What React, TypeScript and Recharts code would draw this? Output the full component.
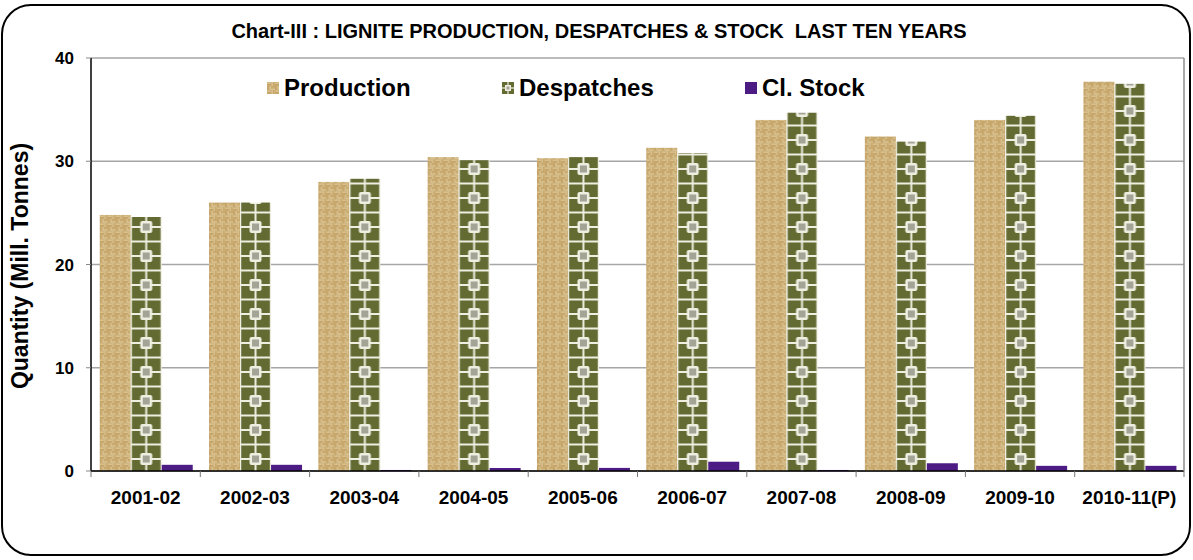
import { BarChart, Bar, XAxis, YAxis, CartesianGrid } from 'recharts';

const years = ['2001-02', '2002-03', '2003-04', '2004-05', '2005-06', '2006-07', '2007-08', '2008-09', '2009-10', '2010-11(P)'];
const production = [24.8, 26.0, 28.0, 30.4, 30.3, 31.3, 34.0, 32.4, 34.0, 37.7];
const despatches = [24.6, 26.0, 28.3, 30.1, 30.4, 30.8, 34.7, 31.9, 34.4, 37.5];
const closingStock = [0.6, 0.6, 0.1, 0.3, 0.3, 0.9, 0.1, 0.75, 0.5, 0.5];
const yTicks = [0, 10, 20, 30, 40];

const data = years.map((year, i) => ({
  year,
  production: production[i],
  despatches: despatches[i],
  stock: closingStock[i],
}));

const STOCK = '#4c1c84';
const OLIVE = '#636a32';
const LINE = '#efeee0';

// woven "burlap" texture
const WeaveTile = () => (
  <>
    <rect width={8} height={8} fill="#9e7c44" />
    <rect x={0} y={0.4} width={4} height={1.3} fill="#f1dcaa" />
    <rect x={0} y={2.4} width={4} height={1.3} fill="#dcbd7e" />
    <rect x={4.4} y={0} width={1.3} height={4} fill="#f1dcaa" />
    <rect x={6.4} y={0} width={1.3} height={4} fill="#e0c486" />
    <rect x={0.4} y={4} width={1.3} height={4} fill="#dcbd7e" />
    <rect x={2.4} y={4} width={1.3} height={4} fill="#f1dcaa" />
    <rect x={4} y={4.4} width={4} height={1.3} fill="#e0c486" />
    <rect x={4} y={6.4} width={4} height={1.3} fill="#f1dcaa" />
  </>
);

const ProductionShape = (props: any) => {
  const { x, y, width, height, index } = props;
  if (!height) return null;
  const id = `prod-${index}`;
  return (
    <g>
      <defs>
        <pattern id={id} patternUnits="userSpaceOnUse" x={x} y={y + height} width={8} height={8}>
          <WeaveTile />
        </pattern>
      </defs>
      <rect x={x} y={y} width={width} height={height} fill={`url(#${id})`} />
    </g>
  );
};

const DespatchShape = (props: any) => {
  const { x, y, width, height, index } = props;
  if (!height) return null;
  const id = `desp-${index}`;
  const w = width;
  const cx = w / 2;
  return (
    <g>
      <defs>
        <pattern id={id} patternUnits="userSpaceOnUse" x={x} y={y + height - 12} width={w} height={29}>
          <rect width={w} height={29} fill={OLIVE} />
          <rect x={0} y={-1} width={w} height={2} fill={LINE} />
          <rect x={0} y={13.5} width={w} height={2} fill={LINE} />
          <rect x={0} y={28} width={w} height={2} fill={LINE} />
          <rect x={cx - 1} y={0} width={2} height={29} fill={LINE} />
          <rect x={0} y={0} width={1.2} height={29} fill={LINE} />
          <rect x={w - 1.2} y={0} width={1.2} height={29} fill={LINE} />
          <rect x={cx - 6} y={-6} width={12} height={12} rx={2} fill={LINE} />
          <rect x={cx - 6} y={23} width={12} height={12} rx={2} fill={LINE} />
          <rect x={cx - 3.5} y={-3.5} width={7} height={7} fill="#a4a496" />
          <rect x={cx - 3.5} y={25.5} width={7} height={7} fill="#a4a496" />
        </pattern>
      </defs>
      <rect x={x} y={y} width={width} height={height} fill={`url(#${id})`} />
    </g>
  );
};

const XTick = (props: any) => {
  const { x, y, payload, index } = props;
  const half = payload?.offset ?? 54.65;
  return (
    <g>
      <line x1={x - half} y1={y} x2={x - half} y2={y + 6} stroke="#777" />
      {index === years.length - 1 && (
        <line x1={x + half} y1={y} x2={x + half} y2={y + 6} stroke="#777" />
      )}
      <text x={x} y={y + 33} textAnchor="middle" fontSize={19} fontWeight="bold" fill="#000">
        {payload.value}
      </text>
    </g>
  );
};

const legendItems = [
  { label: 'Production', kind: 'prod', left: 267 },
  { label: 'Despatches', kind: 'desp', left: 502 },
  { label: 'Cl. Stock', kind: 'stock', left: 745 },
];

const LegendIcon = ({ kind }: { kind: string }) => (
  <svg width={12} height={12} style={{ marginRight: 5 }}>
    {kind === 'prod' && (
      <>
        <defs>
          <pattern id="lg-prod" patternUnits="userSpaceOnUse" width={8} height={8}>
            <WeaveTile />
          </pattern>
        </defs>
        <rect width={12} height={12} fill="url(#lg-prod)" />
      </>
    )}
    {kind === 'desp' && (
      <>
        <rect width={12} height={12} fill={OLIVE} />
        <rect x={0} y={5.4} width={12} height={1.2} fill={LINE} />
        <rect x={5.4} y={0} width={1.2} height={12} fill={LINE} />
        <rect x={3} y={3} width={6} height={6} fill={LINE} />
        <rect x={4.5} y={4.5} width={3} height={3} fill="#a4a496" />
      </>
    )}
    {kind === 'stock' && <rect width={12} height={12} fill={STOCK} />}
  </svg>
);

export default function App() {
  return (
    <div style={{ position: 'relative', width: 1193, height: 560, background: '#fff', fontFamily: 'Arial, "Liberation Sans", sans-serif' }}>
      <style>{'body{margin:0}'}</style>
      <div
        style={{
          position: 'absolute',
          left: 1,
          top: 4,
          width: 1190,
          height: 552,
          border: '2px solid #000',
          borderRadius: 30,
          boxSizing: 'border-box',
        }}
      />
      <div
        style={{
          position: 'absolute',
          top: 19,
          left: 0,
          width: 1198,
          textAlign: 'center',
          fontSize: 20,
          fontWeight: 'bold',
          lineHeight: '24px',
          whiteSpace: 'pre',
        }}
      >
        {'Chart-III : LIGNITE PRODUCTION, DESPATCHES & STOCK  LAST TEN YEARS'}
      </div>
      <div
        style={{
          position: 'absolute',
          left: 20,
          top: 266,
          transform: 'translate(-50%, -50%) rotate(-90deg)',
          fontSize: 23,
          fontWeight: 'bold',
          whiteSpace: 'nowrap',
        }}
      >
        Quantity (Mill. Tonnes)
      </div>
      <BarChart
        width={1193}
        height={560}
        data={data}
        margin={{ top: 58, right: 0, bottom: 59, left: 0 }}
        barCategoryGap="8%"
        barGap={0}
      >
        <CartesianGrid vertical={false} stroke="#a6a6a6" strokeWidth={1.5} />
        <XAxis
          dataKey="year"
          height={30}
          tickLine={false}
          tickSize={0}
          tickMargin={0}
          axisLine={{ stroke: '#000', strokeWidth: 1.5 }}
          tick={<XTick />}
          interval={0}
        />
        <YAxis
          width={91}
          domain={[0, 40]}
          ticks={yTicks}
          tickSize={5}
          tickMargin={12}
          tickLine={{ stroke: '#888' }}
          axisLine={{ stroke: '#000', strokeWidth: 1.5 }}
          tick={{ fontSize: 17, fontWeight: 'bold', fill: '#000' }}
        />
        <YAxis
          yAxisId="right"
          orientation="right"
          width={9}
          tick={false}
          tickLine={false}
          axisLine={{ stroke: '#8c8c8c', strokeWidth: 1.5 }}
        />
        <Bar dataKey="production" name="Production" shape={<ProductionShape />} isAnimationActive={false} />
        <Bar dataKey="despatches" name="Despatches" shape={<DespatchShape />} isAnimationActive={false} />
        <Bar dataKey="stock" name="Cl. Stock" fill={STOCK} isAnimationActive={false} />
      </BarChart>
      {legendItems.map((item) => (
        <div
          key={item.label}
          style={{
            position: 'absolute',
            left: item.left,
            top: 74,
            display: 'flex',
            alignItems: 'center',
            fontSize: 24,
            fontWeight: 'bold',
            lineHeight: '28px',
          }}
        >
          <LegendIcon kind={item.kind} />
          {item.label}
        </div>
      ))}
    </div>
  );
}
